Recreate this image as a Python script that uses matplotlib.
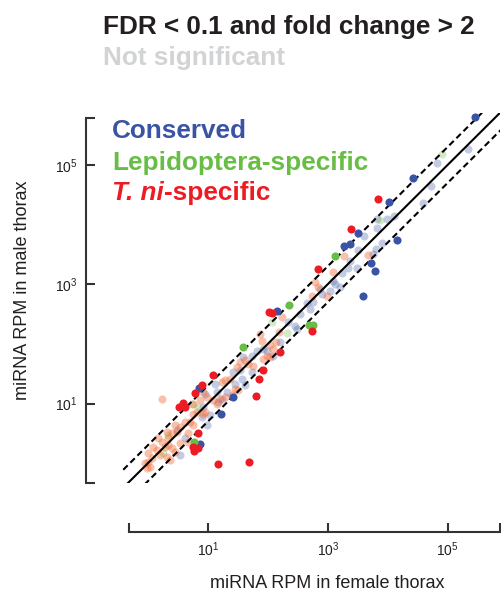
import numpy as np
import matplotlib
matplotlib.use("Agg")
import matplotlib.pyplot as plt

plt.rcParams['font.family'] = ['Liberation Sans', 'DejaVu Sans']
plt.rcParams['mathtext.default'] = 'regular'

# log10 RPM (female thorax, male thorax)
cons_sig_f = [5.455, 4.417, 4.017, 4.16, 3.51, 3.277, 3.372, 3.717, 3.788, 3.583, 2.16, 1.422, 1.222, 0.86, 0.863]
cons_sig_m = [5.795, 4.778, 4.378, 3.733, 3.85, 3.638, 3.667, 3.362, 3.222, 2.8, 2.555, 1.105, 0.833, 1.262, 0.325]

lep_sig_f = [2.355, 2.693, 2.75, 1.583, 3.122, 0.772]
lep_sig_m = [2.658, 2.317, 2.317, 1.942, 3.467, 0.35]

tni_sig_f = [3.838, 3.38, 2.843, 2.013, 2.067, 2.738, 2.205, 1.927, 1.86, 1.088, 1.797,
             0.91, 0.788, 0.583, 0.527, 0.622, 0.843, 0.76, 0.83, 0.772, 1.163, 1.693]
tni_sig_m = [4.433, 3.928, 3.262, 2.538, 2.512, 2.208, 1.872, 1.567, 1.417, 1.472, 1.133,
             1.317, 1.175, 1.017, 0.945, 0.945, 0.508, 0.275, 0.262, 0.208, -0.012, 0.028]

cons_ns_f = [5.343, 4.827, 4.713, 4.593, 4.105, 3.993, 3.827, 3.817, 3.605, 3.497, 3.9, 3.805, 3.76,
             3.372, 3.483, 3.343, 3.233, 3.093, 3.122, 3.205, 2.872, 3.038, 2.9, 2.66, 2.76, 2.705,
             2.538, 2.343, 2.455, 2.483, 2.205, 1.983, 1.917, 1.817, 1.593, 1.733, 2.093, 1.427,
             1.538, 1.567, 1.455, 1.733, 1.622, 1.122, 1.15, 1.317, 1.233, 1.038, 0.955, 1.177,
             0.9, 0.983, 0.622, 0.483, 0.538, 0.927]
cons_ns_m = [5.262, 5.033, 4.65, 4.367, 4.15, 4.095, 4.1, 3.945, 3.8, 3.575, 3.695, 3.583, 3.5,
             3.388, 3.278, 3.278, 3.195, 3.055, 3.0, 2.945, 2.917, 2.888, 2.833, 2.683, 2.695, 2.592,
             2.5, 2.372, 2.305, 2.25, 2.038, 1.888, 1.917, 1.888, 1.778, 1.805, 1.805, 1.528,
             1.555, 1.417, 1.333, 1.528, 1.305, 1.333, 1.195, 1.195, 1.083, 0.805, 1.167, 1.028,
             0.778, 0.638, 0.417, 0.555, 0.138, 0.945]

lep_ns_f = [4.9, 3.872, 2.327, 2.067, 0.733, 0.843, 0.26, 0.338]
lep_ns_m = [5.183, 4.083, 2.183, 2.362, 1.0, 0.945, 0.167, 0.467]

tni_ns_f = [2.788, 2.733, 2.843, 2.983, 3.672, 3.277, 3.093, 2.233, 2.193, 1.872, 1.9, 2.038, 2.138,
            2.093, 1.983, 1.917, 2.038, 1.538, 1.622, 1.677, 1.483, 1.76, 1.372, 1.288, 1.233,
            1.51, 1.4, 1.455, 0.927, 0.983, 1.093, 1.15, 1.205, 1.288, 0.872, 0.76, 0.955, 0.243,
            0.927, 0.817, 0.76, 0.622, 0.705, 0.76, 0.455, 0.538, 0.483, 0.317, 0.4, 0.343, 0.667,
            0.677, 0.177, 0.233, 0.288, 0.343, 0.4, 0.455, 0.093, 0.15, 0.205, 0.317, 0.372, 0.01,
            0.067, 0.01, -0.045, 0.038, -0.017, 0.538]
tni_ns_m = [3.033, 2.795, 2.945, 2.795, 3.483, 3.467, 3.2, 2.458, 2.195, 2.167, 2.055, 1.983, 2.038,
            1.917, 1.795, 1.75, 1.778, 1.695, 1.722, 1.667, 1.612, 1.628, 1.417, 1.388, 1.362,
            1.222, 1.138, 1.25, 1.195, 1.112, 1.055, 1.0, 1.072, 1.112, 1.055, 1.0, 0.862, 1.083,
            0.833, 0.862, 0.833, 0.695, 0.695, 0.638, 0.638, 0.612, 0.528, 0.528, 0.5, 0.417, 0.5,
            0.362, 0.417, 0.362, 0.278, 0.305, 0.25, 0.195, 0.278, 0.222, 0.138, 0.112, 0.055, 0.167,
            0.083, 0.028, 0.0, -0.055, -0.083, 0.333]

BLUE = '#3a53a4'
GREEN = '#68bd45'
RED = '#ed1c24'
SALMON = '#f26531'

fig = plt.figure(figsize=(5.01, 5.93), dpi=100)
ax = fig.add_axes([122 / 501, 110 / 593, 378 / 501, 370 / 593])

def pts(f, m):
    return 10 ** np.array(f), 10 ** np.array(m)

ms = 34
ax.scatter(*pts(cons_ns_f, cons_ns_m), s=ms, c=BLUE, alpha=0.3, lw=0, zorder=1)
ax.scatter(*pts(lep_ns_f, lep_ns_m), s=ms, c=GREEN, alpha=0.3, lw=0, zorder=1)
ax.scatter(*pts(tni_ns_f, tni_ns_m), s=ms, c=SALMON, alpha=0.4, lw=0, zorder=1)

# y = x and 2-fold lines
xx = np.array([1e-1, 1e7])
ax.plot(xx, xx, color='black', lw=1.5, zorder=2)
ax.plot(xx, 2 * xx, color='black', lw=1.5, ls=(0, (3, 1.8)), zorder=2)
ax.plot(xx, xx / 2, color='black', lw=1.5, ls=(0, (3, 1.8)), zorder=2)

ax.scatter(*pts(cons_sig_f, cons_sig_m), s=ms, c=BLUE, lw=0, zorder=3)
ax.scatter(*pts(lep_sig_f, lep_sig_m), s=ms, c=GREEN, lw=0, zorder=3)
ax.scatter(*pts(tni_sig_f, tni_sig_m), s=ms, c=RED, lw=0, zorder=3)

ax.set_xscale('log')
ax.set_yscale('log')
ax.set_xlim(10 ** -0.43, 10 ** 5.87)
ax.set_ylim(10 ** -0.3, 10 ** 5.867)

xlo, xhi = 10 ** -0.31, 10 ** 5.87
ylo, yhi = 10 ** -0.33, 10 ** 5.78
ax.set_xticks([xlo, 1e1, 1e3, 1e5, xhi])
ax.set_xticklabels(['', '$10^1$', '$10^3$', '$10^5$', ''])
ax.set_yticks([ylo, 1e1, 1e3, 1e5, yhi])
ax.set_yticklabels(['', '$10^1$', '$10^3$', '$10^5$', ''])
ax.minorticks_off()

for side in ['top', 'right']:
    ax.spines[side].set_visible(False)
ax.spines['left'].set_position(('outward', 26))
ax.spines['bottom'].set_position(('outward', 35))
ax.spines['left'].set_bounds(ylo, yhi)
ax.spines['bottom'].set_bounds(xlo, xhi)
for side in ['left', 'bottom']:
    ax.spines[side].set_linewidth(1.5)
    ax.spines[side].set_color('#333333')
ax.tick_params(direction='in', length=6.5, width=1.5, color='#333333',
               labelsize=10, labelcolor='#231f20', pad=6)
ax.patch.set_visible(False)

fig.text(327 / 501, 1 - 584 / 593, 'miRNA RPM in female thorax', fontsize=13,
         ha='center', va='center', color='#231f20')
fig.text(23 / 501, 1 - 290 / 593, 'miRNA RPM in male thorax', fontsize=13,
         ha='center', va='center', rotation=90, color='#231f20')

fs = 18.8
fig.text(103 / 501, 1 - 34 / 593, 'FDR < 0.1 and fold change > 2', fontsize=fs,
         fontweight='bold', color='#231f20', va='baseline')
fig.text(103 / 501, 1 - 65.5 / 593, 'Not significant', fontsize=fs,
         fontweight='bold', color='#d1d3d4', va='baseline')
fig.text(112 / 501, 1 - 138.3 / 593, 'Conserved', fontsize=fs,
         fontweight='bold', color=BLUE, va='baseline')
fig.text(112 / 501, 1 - 170 / 593, 'Lepidoptera-specific', fontsize=fs,
         fontweight='bold', color=GREEN, va='baseline')
t1 = fig.text(112 / 501, 1 - 200 / 593, 'T. ni', fontsize=fs, fontweight='bold',
              fontstyle='italic', color=RED, va='baseline')
ax.annotate('-specific', xy=(1, 0), xycoords=t1, fontsize=fs, fontweight='bold',
            color=RED, va='bottom', ha='left', annotation_clip=False)

fig.savefig('out.png', dpi=100)
